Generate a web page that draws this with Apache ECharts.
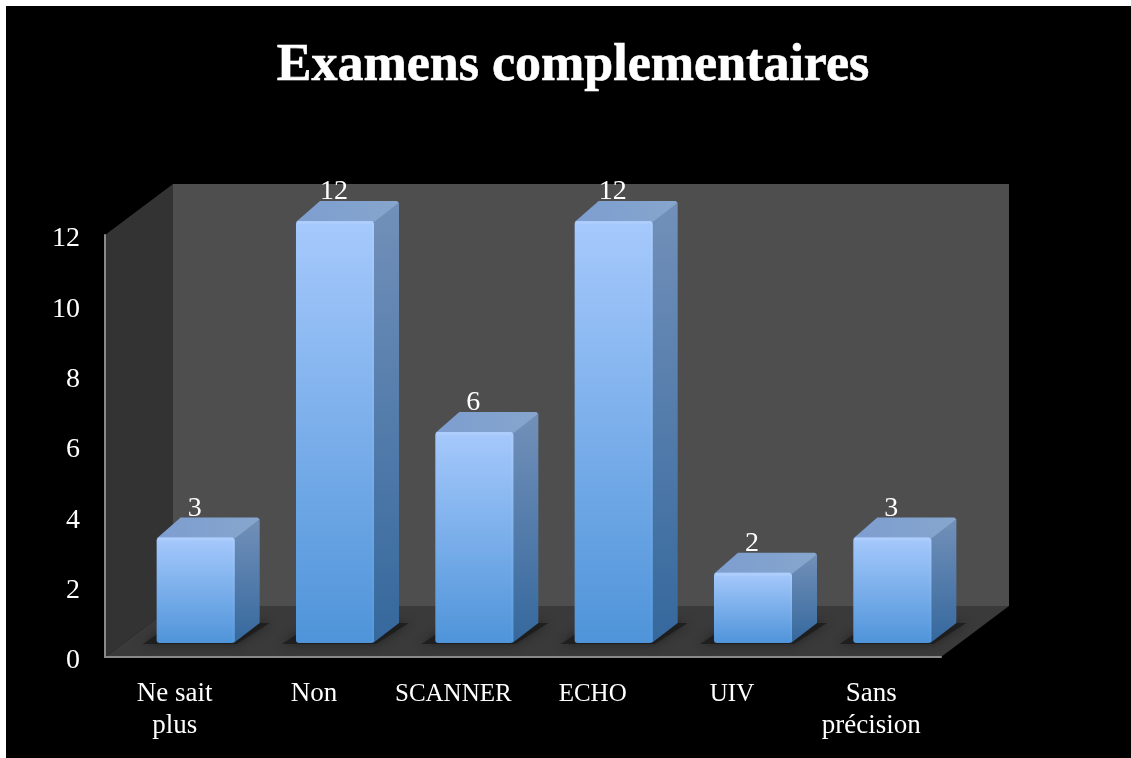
<!DOCTYPE html>
<html>
<head>
<meta charset="utf-8">
<title>Examens complementaires</title>
<script src="https://cdn.jsdelivr.net/npm/echarts@6/dist/echarts.min.js"></script>
<style>
  html, body { margin: 0; padding: 0; background: #fff; }
  #chart { position: absolute; left: 0; top: 0; width: 1131px; height: 758px; }
</style>
</head>
<body>
<div id="chart"></div>
<script>
const chartTitle = 'Examens complementaires'
const categories = ['Ne sait\nplus', 'Non', 'SCANNER', 'ECHO', 'UIV', 'Sans\nprécision']
const values = [3, 12, 6, 12, 2, 3]

const fontName = '"Liberation Serif", serif'

// fake 3d: wall depth, where bars stand on the floor, bar depth
const wallDX = 68, wallDY = 51
const barShiftX = 21, barShiftY = 14
const barDX = 25, barDY = 20
const barRatio = 0.56

function vGrad(a, b) {
  return new echarts.graphic.LinearGradient(0, 0, 0, 1, [
    { offset: 0, color: a },
    { offset: 1, color: b }
  ])
}

function renderWalls(params) {
  const c = params.coordSys
  const l = c.x, r = c.x + c.width, t = c.y, b = c.y + c.height
  return {
    type: 'group',
    children: [
      { type: 'rect', shape: { x: l + wallDX, y: t - wallDY, width: c.width, height: c.height }, style: { fill: '#4e4e4e' } },
      { type: 'polygon', shape: { points: [[l, t], [l + wallDX, t - wallDY], [l + wallDX, b - wallDY], [l, b]] }, style: { fill: '#333333' } },
      { type: 'polygon', shape: { points: [[l, b], [r, b], [r + wallDX, b - wallDY], [l + wallDX, b - wallDY]] }, style: { fill: '#3a3a3a' } }
    ]
  }
}

function renderShadow(params, api) {
  const base = api.coord([api.value(0), 0])
  const w = api.size([1, 0])[0] * barRatio
  const x0 = base[0] + barShiftX - w / 2, x1 = x0 + w
  const y0 = base[1] - barShiftY
  return {
    type: 'polygon',
    shape: { points: [[x0 - 14, y0 + 1], [x1 + 2, y0 + 1], [x1 + barDX + 10, y0 - barDY], [x0 + 18, y0 - barDY]] },
    style: { fill: 'rgba(25,25,25,0.75)', shadowBlur: 10, shadowColor: 'rgba(25,25,25,0.9)' }
  }
}

function renderBar(params, api) {
  const idx = api.value(0)
  const val = api.value(1)
  const top = api.coord([idx, val])
  const base = api.coord([idx, 0])
  const w = api.size([1, 0])[0] * barRatio
  const x0 = top[0] + barShiftX - w / 2, x1 = x0 + w
  const y0 = top[1] - barShiftY, y1 = base[1] - barShiftY
  const h = y1 - y0
  return {
    type: 'group',
    children: [
      // side
      { type: 'polygon', shape: { points: [[x1 - 1, y0 + 1], [x1 + barDX, y0 - barDY + 2], [x1 + barDX, y1 - barDY], [x1 - 1, y1]] },
        style: { fill: vGrad('#7290b9', '#35689d') } },
      // top
      { type: 'polygon', shape: { points: [[x0, y0 + 1], [x0 + barDX - 1, y0 - barDY], [x1 + barDX - 2, y0 - barDY], [x1 + barDX, y0 - barDY + 2], [x1, y0 + 1]] },
        style: { fill: new echarts.graphic.LinearGradient(0, 0, 1, 0, [
          { offset: 0, color: '#7d9ed0' },
          { offset: 1, color: '#86a6cd' }
        ]) } },
      // front
      { type: 'rect', shape: { x: x0, y: y0, width: w, height: h, r: 3 }, style: { fill: vGrad('#a6c9fc', '#4f94d9') } },
      // bevel highlights
      { type: 'rect', shape: { x: x0 + 1, y: y0, width: w - 2, height: 3, r: 1.5 }, style: { fill: '#b0d0fc', opacity: 0.7 } },
      { type: 'rect', shape: { x: x1 - 2, y: y0 + 2, width: 2, height: h - 3, r: 1 }, style: { fill: vGrad('#b0d0fb', '#5a9ce0'), opacity: 0.5 } },
      // value on top
      { type: 'text', style: { text: String(val), x: top[0] + barShiftX - 1, y: y0 - 29, fill: '#fff', font: '28px ' + fontName, textAlign: 'center', textVerticalAlign: 'middle' } }
    ]
  }
}

const chart = echarts.init(document.getElementById('chart'))
chart.setOption({
  animation: false,
  backgroundColor: '#fff',
  graphic: [
    { type: 'rect', z: -10, shape: { x: 6, y: 6, width: 1125, height: 752 }, style: { fill: '#000' } }
  ],
  title: {
    text: chartTitle,
    left: 568,
    top: 36,
    textAlign: 'center',
    textStyle: { color: '#fff', fontFamily: fontName, fontWeight: 'bold', fontSize: 52, textBorderColor: '#fff', textBorderWidth: 0.6 }
  },
  grid: { left: 105, top: 235, width: 836, height: 422 },
  xAxis: {
    type: 'category',
    data: categories,
    z: 5,
    axisLine: { lineStyle: { color: '#8a8a8a', width: 2 } },
    axisTick: { show: false },
    axisLabel: {
      margin: 21,
      interval: 0,
      // the original face has wide lowercase, so mixed-case labels go a bit larger
      formatter: v => v.split('\n').map(s => (s === s.toUpperCase() ? '{u|' : '{l|') + s + '}').join('\n'),
      rich: {
        u: { color: '#fff', fontFamily: fontName, fontSize: 25, lineHeight: 32 },
        l: { color: '#fff', fontFamily: fontName, fontSize: 27, lineHeight: 32 }
      }
    }
  },
  yAxis: {
    type: 'value',
    min: 0,
    max: 12,
    interval: 2,
    z: 5,
    splitLine: { show: false },
    axisLine: { show: true, lineStyle: { color: '#8a8a8a', width: 2 } },
    axisTick: { show: false },
    axisLabel: {
      margin: 25,
      formatter: '{n|{value}}',
      // labels sit a little under their tick in the original
      rich: { n: { color: '#fff', fontFamily: fontName, fontSize: 28, padding: [8, 0, 0, 0] } }
    }
  },
  series: [
    { type: 'custom', z: 1, silent: true, renderItem: renderWalls, data: [0], clip: false },
    { type: 'custom', z: 2, silent: true, renderItem: renderShadow, data: values.map((v, i) => [i, v]), clip: false },
    { type: 'custom', z: 3, renderItem: renderBar, data: values.map((v, i) => [i, v]), encode: { x: 0, y: 1 }, clip: false }
  ]
})
</script>
</body>
</html>
